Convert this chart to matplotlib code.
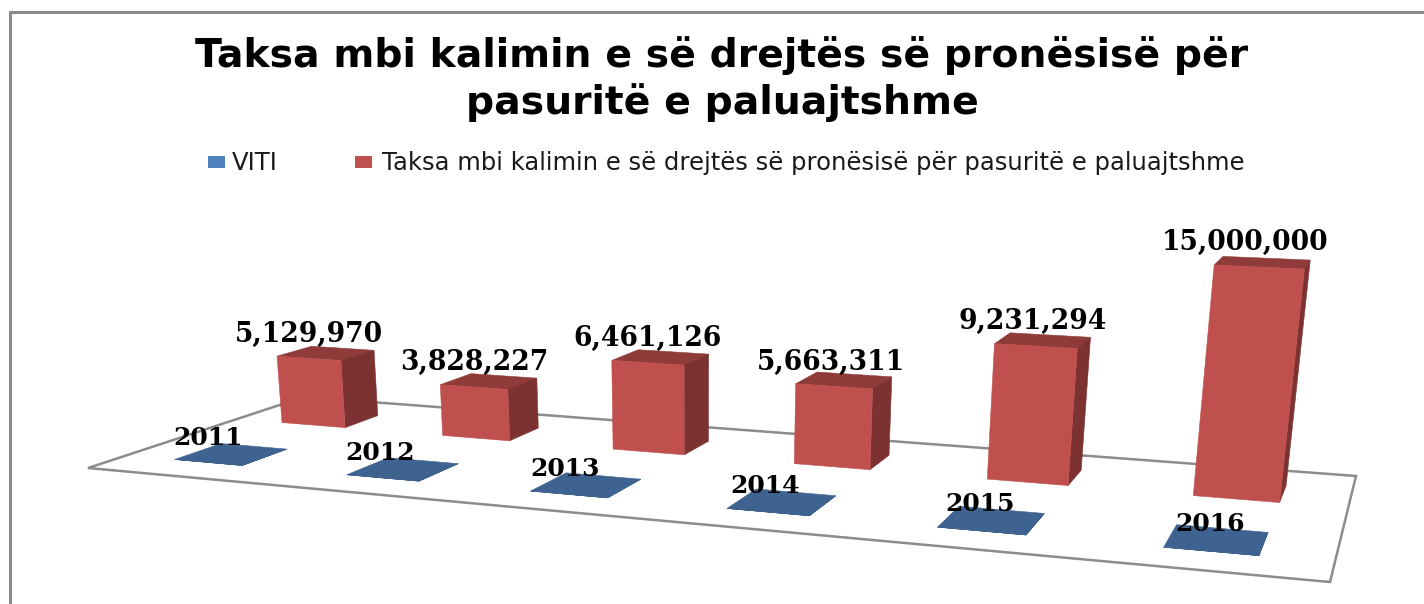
import numpy as np
import matplotlib
matplotlib.use("Agg")
import matplotlib.pyplot as plt
from matplotlib.patches import Polygon, Rectangle

TITLE_LINES = ["Taksa mbi kalimin e së drejtës së pronësisë për", "pasuritë e paluajtshme"]
SERIES_BLUE = "VITI"
SERIES_RED = "Taksa mbi kalimin e së drejtës së pronësisë për pasuritë e paluajtshme"
viti = [2011, 2012, 2013, 2014, 2015, 2016]
taksa = [5129970, 3828227, 6461126, 5663311, 9231294, 15000000]

W, H = 1424, 604
fig = plt.figure(figsize=(W / 100, H / 100), dpi=100, facecolor="white")
ax = fig.add_axes([0, 0, 1, 1])
ax.set_xlim(0, W)
ax.set_ylim(H, 0)
ax.axis("off")

# Camera: floor corners and vertical vanishing point, in canvas units
src = [(0, 0), (6, 0), (6, 1), (0, 1)]
dst = [(88, 468), (1330, 582), (1356, 476), (304, 397)]
A, b = [], []
for (u, v), (x, y) in zip(src, dst):
    A.append([u, v, 1, 0, 0, 0, -u * x, -v * x]); b.append(x)
    A.append([0, 0, 0, u, v, 1, -u * y, -v * y]); b.append(y)
h = np.linalg.solve(np.array(A, float), np.array(b, float))
HOM = np.append(h, 1).reshape(3, 3)
VP = np.array([695.0, 6000.0, 1.0])
K = 0.00255


def project(u, v, z=0.0):
    """(category position, depth, millions) -> canvas."""
    p = HOM @ np.array([u, v, 1.0]) - z * K * VP
    return p[:2] / p[2]


def box(center, v0, v1, width, z, front, side, top, zorder):
    u0, u1 = center - width / 2, center + width / 2
    ax.add_patch(Polygon([project(u0, v0, z), project(u1, v0, z), project(u1, v1, z), project(u0, v1, z)],
                         fc=top, ec=top, lw=0.4, zorder=zorder))
    ax.add_patch(Polygon([project(u1, v0), project(u1, v1), project(u1, v1, z), project(u1, v0, z)],
                         fc=side, ec=side, lw=0.4, zorder=zorder))
    ax.add_patch(Polygon([project(u0, v0), project(u1, v0), project(u1, v0, z), project(u0, v0, z)],
                         fc=front, ec=front, lw=0.4, zorder=zorder))
    return project(center, v0, z)


# Outer chart frame: left and top edges only
ax.plot([10, 10, W], [H, 12, 12], color="#8a8a8a", lw=2.2, solid_joinstyle="miter", zorder=1)

# Floor
ax.add_patch(Polygon([project(0, 0), project(6, 0), project(6, 1), project(0, 1)],
                     fc="white", ec="#8c8c8c", lw=1.8, zorder=2))

serif = dict(family="DejaVu Serif", weight="bold", color="black", ha="center", va="center")
year_dx = [-17, -16.6, -15.3, -11.9, -8.5, -5]
value_dx = [0, 0.5, 0, -2, -2, -10]
for i, (yr, val) in enumerate(zip(viti, taksa)):
    c = i + 0.49
    p = box(c, 0.156, 0.36, 0.40, yr / 1e6, "#3F6390", "#3F6390", "#3F6390", 3)
    q = box(c, 0.653, 0.83, 0.40, val / 1e6, "#C0504D", "#7B3230", "#8E3B39", 4)
    m = project(c, 0.258)
    ax.annotate(f"{yr}", m, xytext=(year_dx[i], 11.4), textcoords="offset points",
                fontsize=18, zorder=6, **serif)
    ax.annotate(f"{val:,}", q, xytext=(value_dx[i], 17.5), textcoords="offset points",
                fontsize=19.2, zorder=6, **serif)

# Title
for line, y in zip(TITLE_LINES, (56, 103)):
    ax.text(722, y, line, family="DejaVu Sans", weight="bold", fontsize=28.4, ha="center", va="center",
            color="black", zorder=6)

# Legend
ax.add_patch(Rectangle((208, 156), 17, 12, fc="#4F81BD", ec="none", zorder=6))
ax.text(232, 163, SERIES_BLUE, family="DejaVu Sans", fontsize=17.5, va="center", color="#1a1a1a", zorder=6)
ax.add_patch(Rectangle((355, 156), 17, 12, fc="#C0504D", ec="none", zorder=6))
ax.text(382, 163, SERIES_RED, family="DejaVu Sans", fontsize=17.5, va="center", color="#1a1a1a", zorder=6)

fig.savefig("out.png", dpi=100, facecolor="white")
